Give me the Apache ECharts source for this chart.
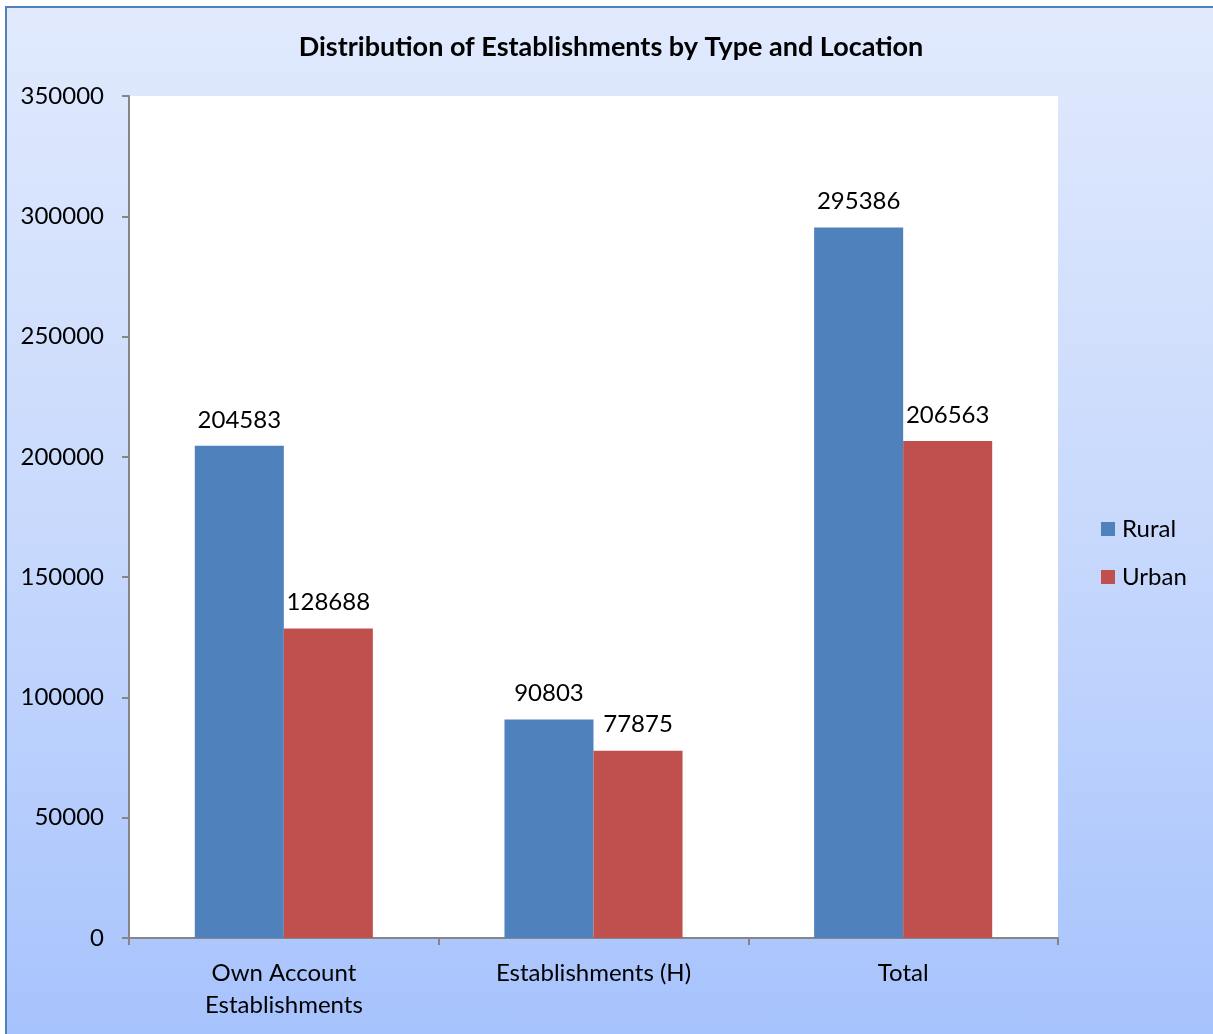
<!DOCTYPE html>
<html>
<head>
<meta charset="utf-8">
<script src="https://cdn.jsdelivr.net/npm/echarts@6/dist/echarts.min.js"></script>
<style>
  html, body { margin: 0; padding: 0; background: #fff; }
  #frame {
    position: absolute; left: 5px; top: 6px; width: 1210px; height: 1030px;
    border-left: 2px solid #4f81bd; border-top: 2px solid #4f81bd;
    background: linear-gradient(to bottom, #e1eafd 0%, #c8d9fc 50%, #a7c3fd 100%);
  }
  #chart { position: absolute; left: 0; top: 0; width: 1213px; height: 1034px; }
</style>
</head>
<body>
<div id="frame"></div>
<div id="chart"></div>
<script>
var categories = ['Own Account\nEstablishments', 'Establishments (H)', 'Total'];
var rural = [204583, 90803, 295386];
var urban = [128688, 77875, 206563];
var yTicks = { min: 0, max: 350000, interval: 50000 };

var font = 'Lato, "Open Sans", sans-serif';
var myChart = echarts.init(document.getElementById('chart'));
var labelStyle = {
  show: true,
  position: 'top',
  distance: 14,
  color: '#000',
  fontSize: 24,
  fontFamily: font
};
var option = {
  backgroundColor: 'transparent',
  animation: false,
  title: {
    text: 'Distribution of Establishments by Type and Location',
    left: 606,
    textAlign: 'center',
    top: 29,
    textStyle: { fontFamily: font, fontSize: 27, fontWeight: 'bold', color: '#000' }
  },
  legend: {
    orient: 'vertical',
    left: 1101,
    top: 517,
    padding: 0,
    itemWidth: 14,
    itemHeight: 14,
    itemGap: 24,
    icon: 'rect',
    textStyle: { fontFamily: font, fontSize: 24, color: '#000', padding: [0, 0, 0, 2] },
    data: ['Rural', 'Urban']
  },
  grid: {
    left: 129, top: 96, width: 929, height: 842,
    show: true, backgroundColor: '#fff', borderWidth: 0
  },
  xAxis: {
    type: 'category',
    data: categories,
    axisLine: { lineStyle: { color: '#868686', width: 2 } },
    axisTick: { show: true, length: 7, lineStyle: { color: '#868686', width: 2 } },
    axisLabel: { color: '#000', fontSize: 24, fontFamily: font, margin: 19, lineHeight: 32 }
  },
  yAxis: {
    type: 'value',
    min: yTicks.min,
    max: yTicks.max,
    interval: yTicks.interval,
    splitLine: { show: false },
    axisLine: { show: true, lineStyle: { color: '#868686', width: 2 } },
    axisTick: { show: true, length: 7, lineStyle: { color: '#868686', width: 2 } },
    axisLabel: {
      color: '#000', fontSize: 24, fontFamily: font, margin: 25,
      formatter: function (v) { return String(v); }
    }
  },
  series: [
    {
      name: 'Rural', type: 'bar', data: rural,
      barGap: '0%', barCategoryGap: '42.5%',
      itemStyle: { color: '#4f81bd' },
      label: labelStyle
    },
    {
      name: 'Urban', type: 'bar', data: urban,
      barGap: '0%', barCategoryGap: '42.5%',
      itemStyle: { color: '#c0504d' },
      label: labelStyle
    }
  ]
};
myChart.setOption(option);
</script>
</body>
</html>
